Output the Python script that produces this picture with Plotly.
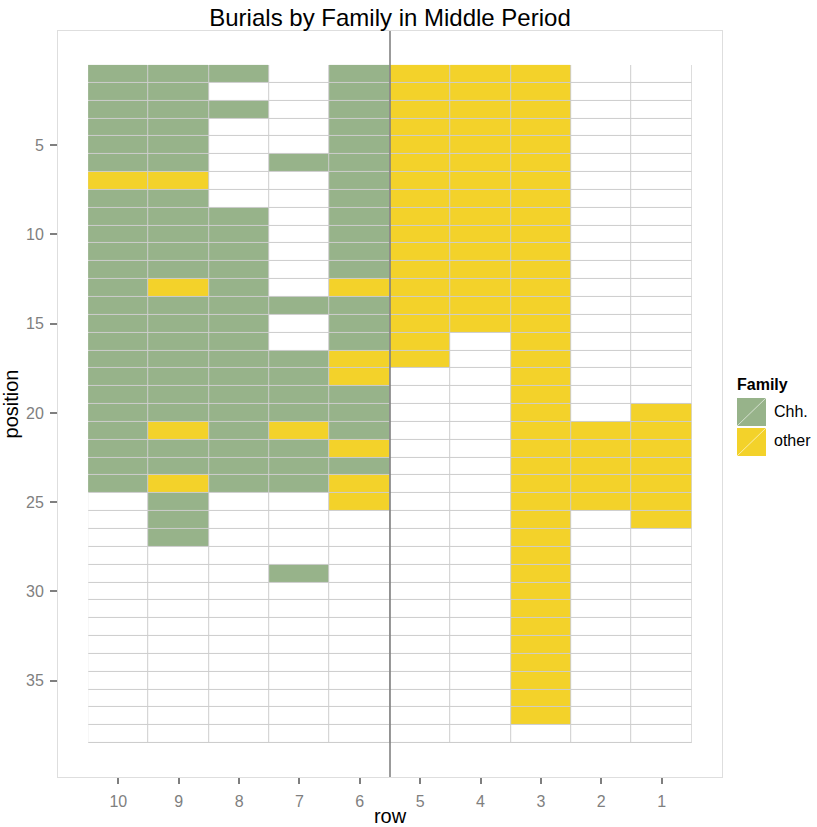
import plotly.graph_objects as go

# ---- data -------------------------------------------------------------
title = "Burials by Family in Middle Period"
rows = [10, 9, 8, 7, 6, 5, 4, 3, 2, 1]
positions = list(range(1, 39))
families = ["Chh.", "other"]
family_colors = ["#97b38a", "#f3d22a"]

# one string per row, one character per position (1..38):
# G = Chh., Y = other, W = empty
row10 = "GGGGGGYGGG" "GGGGGGGGGG" "GGGGWWWWWW" "WWWWWWWW"
row9  = "GGGGGGYGGG" "GGYGGGGGGG" "YGGYGGGWWW" "WWWWWWWW"
row8  = "GWGWWWWWGG" "GGGGGGGGGG" "GGGGWWWWWW" "WWWWWWWW"
row7  = "WWWWWGWWWW" "WWWGWWGGGG" "YGGGWWWWGW" "WWWWWWWW"
row6  = "GGGGGGGGGG" "GGYGGGYYGG" "GYGYYWWWWW" "WWWWWWWW"
row5  = "YYYYYYYYYY" "YYYYYYYWWW" "WWWWWWWWWW" "WWWWWWWW"
row4  = "YYYYYYYYYY" "YYYYYWWWWW" "WWWWWWWWWW" "WWWWWWWW"
row3  = "YYYYYYYYYY" "YYYYYYYYYY" "YYYYYYYYYY" "YYYYYYYW"
row2  = "WWWWWWWWWW" "WWWWWWWWWW" "YYYYYWWWWW" "WWWWWWWW"
row1  = "WWWWWWWWWW" "WWWWWWWWWY" "YYYYYYWWWW" "WWWWWWWW"
row_cells = [row10, row9, row8, row7, row6, row5, row4, row3, row2, row1]
divider_row = 5.5

# ---- build -------------------------------------------------------------
code = {"W": 0, "G": 1, "Y": 2}
z = [[code[col[p - 1]] for col in row_cells] for p in positions]

FONT = "Liberation Sans, Arial, Helvetica, sans-serif"
GREY = "#7f7f7f"

fig = go.Figure()
fig.add_trace(go.Heatmap(
    x=rows, y=positions, z=z,
    zmin=0, zmax=2,
    colorscale=[[0, "#ffffff"], [0.3333, "#ffffff"],
                [0.3333, family_colors[0]], [0.6667, family_colors[0]],
                [0.6667, family_colors[1]], [1, family_colors[1]]],
    showscale=False, xgap=1, ygap=1, hoverinfo="skip",
))

shapes = [
    # tile outline colour shows through the gaps
    dict(type="rect", xref="x", yref="y", x0=0.5, x1=10.5, y0=0.5, y1=38.5,
         fillcolor="#cdcdcd", line=dict(width=0), layer="below"),
    dict(type="line", xref="x", yref="paper", x0=divider_row, x1=divider_row,
         y0=0, y1=1, line=dict(color="#7a7a7a", width=1.5), layer="above"),
]

# custom legend (paper coords)
px0, px1 = 58, 722
py0, py1 = 31, 777
def X(px):
    return (px - px0) / (px1 - px0)
def Y(py):
    return (py1 - py) / (py1 - py0)

annotations = [dict(text="<b>Family</b>", x=X(735), y=Y(384), xref="paper", yref="paper",
                    xanchor="left", yanchor="middle", showarrow=False,
                    font=dict(family=FONT, size=16, color="#000000"))]
key_tops = [398, 428]
for fam, col, top in zip(families, family_colors, key_tops):
    shapes.append(dict(type="rect", xref="paper", yref="paper",
                       x0=X(737), x1=X(766), y0=Y(top + 28), y1=Y(top),
                       fillcolor=col, line=dict(width=0)))
    shapes.append(dict(type="line", xref="paper", yref="paper",
                       x0=X(737), x1=X(766), y0=Y(top + 28), y1=Y(top),
                       line=dict(color="rgba(255,255,255,0.6)", width=1)))
    annotations.append(dict(text=fam, x=X(772), y=Y(top + 13), xref="paper", yref="paper",
                            xanchor="left", yanchor="middle", showarrow=False,
                            font=dict(family=FONT, size=16, color="#000000")))

fig.update_layout(
    width=817, height=827,
    margin=dict(l=px0, r=817 - px1, t=py0, b=827 - py1),
    paper_bgcolor="#ffffff", plot_bgcolor="#ffffff",
    title=dict(text=title, x=(px0 + px1) / 2 / 817, xanchor="center",
               y=1 - 18 / 827, yanchor="middle",
               font=dict(family=FONT, size=24, color="#000000")),
    font=dict(family=FONT, color=GREY),
    shapes=shapes, annotations=annotations,
    xaxis=dict(range=[11, 0], tickvals=rows, ticktext=[str(r) for r in rows],
               automargin=False,
               showgrid=False, zeroline=False, showline=True, mirror=True,
               linecolor="#dedede", linewidth=1,
               ticks="outside", ticklen=6, tickcolor=GREY, tickwidth=1.5,
               ticklabelstandoff=4,
               tickfont=dict(family=FONT, size=16, color=GREY),
               title=dict(text="row", standoff=2,
                          font=dict(family=FONT, size=20, color="#000000"))),
    yaxis=dict(range=[40.4, -1.4], tickvals=[5, 10, 15, 20, 25, 30, 35],
               automargin=False,
               showgrid=False, zeroline=False, showline=True, mirror=True,
               linecolor="#dedede", linewidth=1,
               ticks="outside", ticklen=7, tickcolor=GREY, tickwidth=1.5,
               ticklabelstandoff=3,
               tickfont=dict(family=FONT, size=16, color=GREY),
               title=dict(text="position", standoff=4,
                          font=dict(family=FONT, size=20, color="#000000"))),
)

fig.write_html("out.html", config={"displayModeBar": False},
               post_script="document.body.style.margin='0';document.body.style.overflow='hidden';")
